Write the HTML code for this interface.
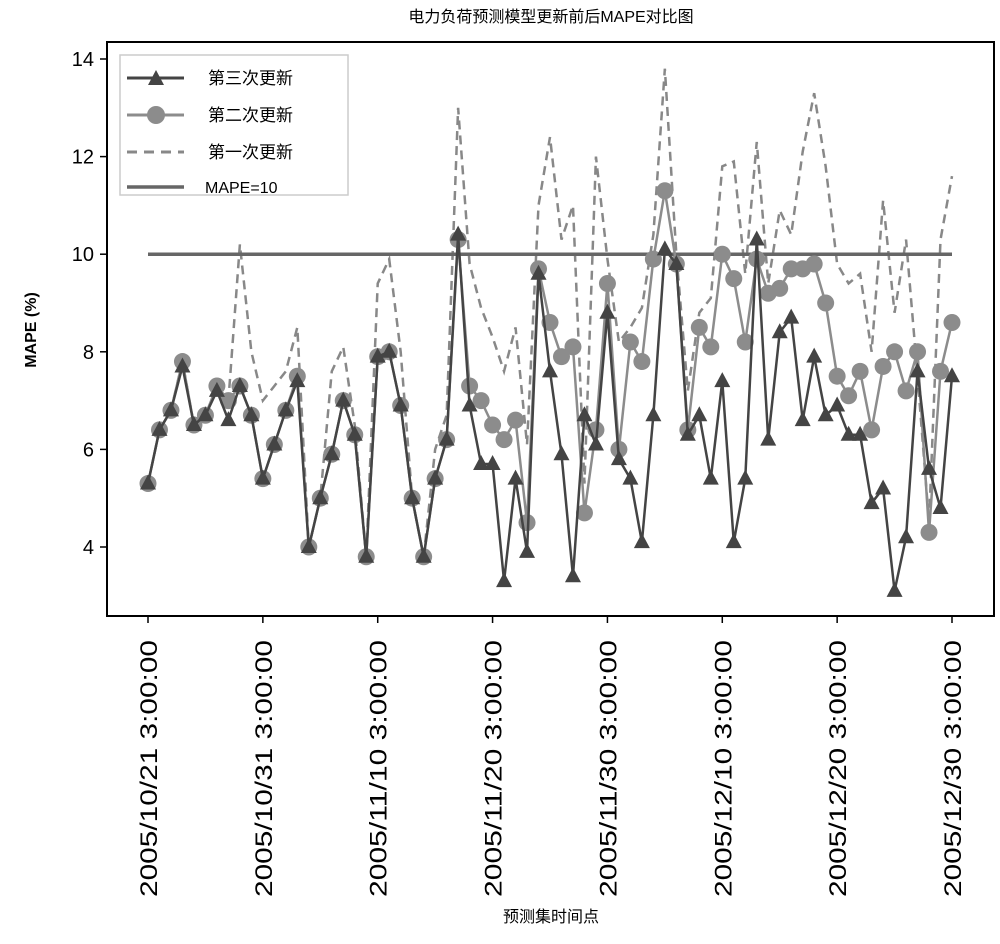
<!DOCTYPE html>
<html><head><meta charset="utf-8"><style>
body{margin:0;background:#fff;width:1000px;height:944px;overflow:hidden}
svg{display:block}
text{font-family:"Liberation Sans","Noto Sans CJK SC",sans-serif}
</style></head><body>
<svg id="chart" width="1000" height="944">
<text x="551" y="22" text-anchor="middle" font-size="16">电力负荷预测模型更新前后MAPE对比图</text>
<rect x="107" y="42" width="887" height="574" fill="none" stroke="#000" stroke-width="2"/>
<g id="yaxis"></g>
<g id="xaxis"></g>
<g id="series"></g>
<text transform="translate(36,330) rotate(-90)" text-anchor="middle" font-size="16" font-weight="bold">MAPE (%)</text>
<text x="551" y="922" text-anchor="middle" font-size="16">预测集时间点</text>
<g>
<rect x="120" y="55" width="228" height="140" fill="#fff" stroke="#ccc" stroke-width="1.5"/>
<g><line x1="127" y1="78" x2="184" y2="78" stroke="#444" stroke-width="3"/><polygon points="156,70 148,85 164,85" fill="#444"/><text x="208" y="84" font-size="17">第三次更新</text></g>
<g><line x1="127" y1="115" x2="184" y2="115" stroke="#8c8c8c" stroke-width="3"/><circle cx="156" cy="115" r="9" fill="#8c8c8c"/><text x="208" y="121" font-size="17">第二次更新</text></g>
<g><line x1="127" y1="152" x2="184" y2="152" stroke="#888" stroke-width="3" stroke-dasharray="10,7"/><text x="208" y="158" font-size="17">第一次更新</text></g>
<g><line x1="127" y1="187" x2="184" y2="187" stroke="#666" stroke-width="3.5"/><text x="205" y="193" font-size="16">MAPE=10</text></g>
</g>
</svg>
<script>
const yTicks=[4,6,8,10,12,14];
const xTickLabels=["2005/10/21 3:00:00","2005/10/31 3:00:00","2005/11/10 3:00:00","2005/11/20 3:00:00","2005/11/30 3:00:00","2005/12/10 3:00:00","2005/12/20 3:00:00","2005/12/30 3:00:00"];
const xTickIdx=[0,10,20,30,40,50,60,70];
const threshold=10;
const third=[5.3,6.4,6.8,7.7,6.5,6.7,7.2,6.6,7.3,6.7,5.4,6.1,6.8,7.4,4.0,5.0,5.9,7.0,6.3,3.8,7.9,8.0,6.9,5.0,3.8,5.4,6.2,10.4,6.9,5.7,5.7,3.3,5.4,3.9,9.6,7.6,5.9,3.4,6.7,6.1,8.8,5.8,5.4,4.1,6.7,10.1,9.8,6.3,6.7,5.4,7.4,4.1,5.4,10.3,6.2,8.4,8.7,6.6,7.9,6.7,6.9,6.3,6.3,4.9,5.2,3.1,4.2,7.6,5.6,4.8,7.5];
const second=[5.3,6.4,6.8,7.8,6.5,6.7,7.3,7.0,7.3,6.7,5.4,6.1,6.8,7.5,4.0,5.0,5.9,7.0,6.3,3.8,7.9,8.0,6.9,5.0,3.8,5.4,6.2,10.3,7.3,7.0,6.5,6.2,6.6,4.5,9.7,8.6,7.9,8.1,4.7,6.4,9.4,6.0,8.2,7.8,9.9,11.3,9.8,6.4,8.5,8.1,10.0,9.5,8.2,9.9,9.2,9.3,9.7,9.7,9.8,9.0,7.5,7.1,7.6,6.4,7.7,8.0,7.2,8.0,4.3,7.6,8.6];
const first=[5.3,6.4,6.8,7.8,6.5,6.7,7.3,7.0,10.2,8.0,7.0,7.3,7.6,8.5,4.0,5.0,7.6,8.1,6.5,3.8,9.4,9.9,8.0,5.0,3.8,6.0,6.7,13.0,9.8,8.9,8.3,7.6,8.5,6.1,11.0,12.4,10.3,11.0,5.3,12.0,9.9,8.2,8.5,8.9,10.4,13.8,10.0,7.2,8.8,9.1,11.8,11.9,9.6,12.3,9.4,10.9,10.4,12.1,13.3,11.8,9.8,9.4,9.6,8.0,11.1,8.8,10.3,7.5,4.5,10.3,11.6];

const NS="http://www.w3.org/2000/svg";
const X=i=>148+i*(952-148)/70;
const Y=v=>547-(v-4)*48.8;
function mk(tag,attrs,parent){const e=document.createElementNS(NS,tag);for(const k in attrs)e.setAttribute(k,attrs[k]);parent.appendChild(e);return e;}
const ya=document.getElementById('yaxis'),xa=document.getElementById('xaxis'),sg=document.getElementById('series');
yTicks.forEach(t=>{
 const l=mk('line',{x1:100,x2:107,y1:Y(t),y2:Y(t),stroke:'#000','stroke-width':1.5},ya);
 
 
 const tx=mk('text',{x:94,y:Y(t)+7,'text-anchor':'end','font-size':20},ya);
 tx.textContent=t;
 
 
});
xTickIdx.forEach((d,k)=>{
 const x=X(d);
 const l=mk('line',{x1:x,x2:x,y1:616,y2:623,stroke:'#000','stroke-width':1.5},xa);
 
 
 const tx=mk('text',{transform:`translate(${x+9},640) rotate(-90)`,'text-anchor':'end','font-size':24,textLength:257,lengthAdjust:'spacingAndGlyphs'},xa);
 tx.textContent=xTickLabels[k];
 
 
});
const pts=a=>a.map((v,i)=>X(i)+','+Y(v)).join(' ');
const p1=mk('polyline',{points:pts(first),fill:'none',stroke:'#888','stroke-width':2.5,'stroke-dasharray':'9,6'},sg);


const th=mk('line',{x1:X(0),x2:X(70),y1:Y(threshold),y2:Y(threshold),stroke:'#666','stroke-width':3.5},sg);


const p2=mk('polyline',{points:pts(second),fill:'none',stroke:'#8c8c8c','stroke-width':2.5},sg);


second.forEach((v,i)=>{
 const c=mk('circle',{cx:X(i),cy:Y(v),r:8.5,fill:'#8c8c8c'},sg);
 
 
});
const p3=mk('polyline',{points:pts(third),fill:'none',stroke:'#444','stroke-width':2.5},sg);


third.forEach((v,i)=>{
 const x=X(i),y=Y(v);
 const t=mk('polygon',{points:`${x},${y-9} ${x-8},${y+6} ${x+8},${y+6}`,fill:'#444'},sg);
 
 
});
</script>
</body></html>
